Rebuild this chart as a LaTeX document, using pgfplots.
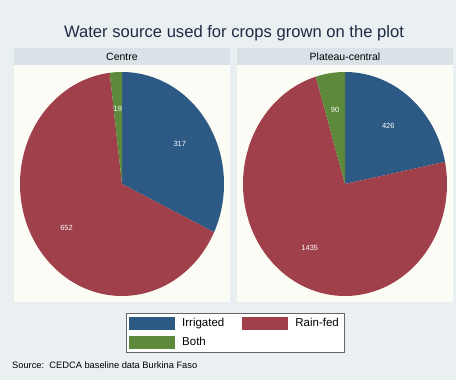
\documentclass[border=0pt]{standalone}
\usepackage{pgfplots}
\usepackage{pgfplotstable}
\usepackage{fontspec}
\setmainfont{Liberation Sans}
\pgfplotsset{compat=1.18}

\definecolor{bgcol}{HTML}{EAEFF1}
\definecolor{stripcol}{HTML}{D9E2E7}
\definecolor{plotcol}{HTML}{FCFCF6}
\definecolor{titlecol}{HTML}{1E2B45}
\definecolor{irrblue}{HTML}{2C5A85}
\definecolor{rainred}{HTML}{A0404B}
\definecolor{bothgreen}{HTML}{5C8A3A}

% Number of plots by water source, per region
\pgfplotstableread{
region    irrigated rainfed both
Centre    317       652     19
Plateau   426       1435    90
}\watertable

% Slice angles (clockwise from 12 o'clock) and label positions for one row
\newcommand{\pieangles}[1]{%
  \pgfplotstablegetelem{#1}{irrigated}\of\watertable\let\vI\pgfplotsretval
  \pgfplotstablegetelem{#1}{rainfed}\of\watertable\let\vR\pgfplotsretval
  \pgfplotstablegetelem{#1}{both}\of\watertable\let\vB\pgfplotsretval
  \pgfmathsetmacro\vT{\vI+\vR+\vB}%
  \pgfmathsetmacro\fI{\vI/\vT}%
  \pgfmathsetmacro\fR{\vR/\vT}%
  \pgfmathsetmacro\aA{90-360*\fI}%
  \pgfmathsetmacro\aB{\aA-360*\fR}%
  \pgfmathsetmacro\mI{(90+\aA)/2}%
  \pgfmathsetmacro\mR{(\aA+\aB)/2}%
  \pgfmathsetmacro\mB{(\aB-270)/2}%
  \pgfmathsetmacro\xI{0.67*cos(\mI)}\pgfmathsetmacro\yI{0.67*sin(\mI)}%
  \pgfmathsetmacro\xR{0.67*cos(\mR)}\pgfmathsetmacro\yR{0.67*sin(\mR)}%
  \pgfmathsetmacro\xB{0.67*cos(\mB)}\pgfmathsetmacro\yB{0.67*sin(\mB)}%
}

\pgfplotsset{
  pieaxis/.style={
    scale only axis, width=204pt, height=224pt,
    xmin=-1, xmax=1, ymin=-1, ymax=1,
    hide axis, clip=false, anchor=origin,
  },
  slice/.style={draw=none, samples=120, fill=#1},
  swatch legend/.style={
    legend image code/.code={\fill[##1] (0pt,-6.5pt) rectangle (46pt,6.5pt);},
  },
}

\newcommand{\drawslices}{%
  \addplot[slice=irrblue, domain=\aA:90] ({cos(x)},{sin(x)}) -- (axis cs:0,0) -- cycle;
  \addplot[slice=rainred, domain=\aB:\aA] ({cos(x)},{sin(x)}) -- (axis cs:0,0) -- cycle;
  \addplot[slice=bothgreen, domain=-270:\aB] ({cos(x)},{sin(x)}) -- (axis cs:0,0) -- cycle;
  \node[font=\fontsize{7.5}{8}\selectfont, text=white] at (axis cs:\xI,\yI) {\vI};
  \node[font=\fontsize{7.5}{8}\selectfont, text=white] at (axis cs:\xR,\yR) {\vR};
  \node[font=\fontsize{7.5}{8}\selectfont, text=white] at (axis cs:\xB,\yB) {\vB};
}

\begin{document}
\begin{tikzpicture}
  % graph region and panels
  \fill[bgcol] (0pt,0pt) rectangle (456pt,380pt);
  \fill[stripcol] (14pt,315pt) rectangle (230pt,332pt);
  \fill[stripcol] (237pt,315pt) rectangle (453pt,332pt);
  \fill[plotcol] (14pt,78pt) rectangle (230pt,315pt);
  \fill[plotcol] (237pt,78pt) rectangle (453pt,315pt);

  \node[font=\fontsize{16.6}{19}\selectfont, text=titlecol] at (234pt,347pt) {Water source used for crops grown on the plot};
  \node[font=\fontsize{10.5}{12}\selectfont] at (122pt,323.5pt) {Centre};
  \node[font=\fontsize{10.5}{12}\selectfont] at (345pt,323.5pt) {Plateau-central};
  \node[font=\fontsize{9.3}{10}\selectfont, anchor=base west, inner sep=0pt] at (12pt,11pt) {Source:\ \ CEDCA baseline data Burkina Faso};

  \pieangles{0}
  \begin{axis}[pieaxis, at={(122pt,196pt)},
      swatch legend,
      legend columns=2,
      legend cell align=left,
      legend style={at={(axis description cs:1.054,-0.165)}, anchor=center,
        draw=black!60, fill=white, font=\fontsize{11.5}{13}\selectfont,
        inner xsep=3pt, inner ysep=3pt, row sep=5pt,
        /tikz/every even column/.append style={column sep=16pt},
        /tikz/every odd column/.append style={column sep=5pt}},
    ]
    \drawslices
    \legend{Irrigated, Rain-fed, Both}
  \end{axis}

  \pieangles{1}
  \begin{axis}[pieaxis, at={(345pt,196pt)}]
    \drawslices
  \end{axis}
\end{tikzpicture}
\end{document}
